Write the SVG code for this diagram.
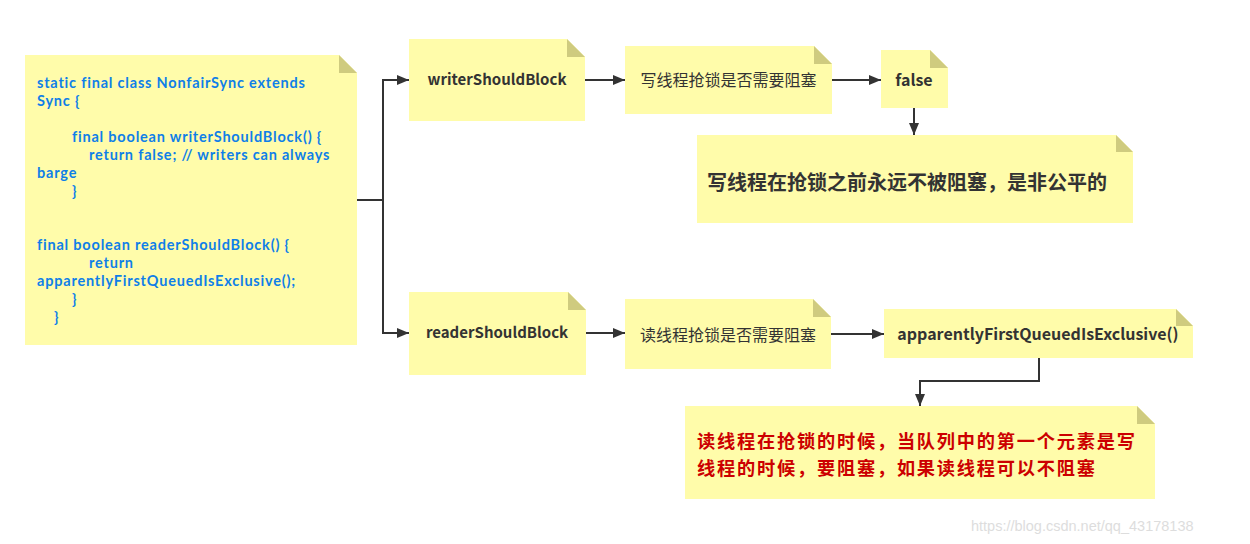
<svg xmlns="http://www.w3.org/2000/svg" width="1250" height="544" viewBox="0 0 1250 544">
<defs>
<style>
.note{fill:#fffcaa}
.fold{fill:#cfcb7f}
.code{font-family:Lato,"Liberation Sans",sans-serif;font-weight:bold;font-size:14.5px;letter-spacing:0.8px;fill:#0f7fe8}
.lbl{font-family:"Noto Sans CJK SC","Liberation Sans",sans-serif;font-weight:bold;font-size:15px;fill:#333333;text-anchor:middle}
.cn{font-family:"Noto Sans CJK SC",sans-serif;font-size:16px;fill:#333333;text-anchor:middle}
.big{font-family:"Noto Sans CJK SC",sans-serif;font-weight:bold;font-size:20px;fill:#333333}
.red{font-family:"Noto Sans CJK SC",sans-serif;font-weight:bold;font-size:18.2px;letter-spacing:1.8px;fill:#cc0000}
.wm{font-family:"Liberation Sans",sans-serif;font-size:14.5px;fill:#dddddd}
.conn{fill:none;stroke:#333333;stroke-width:2}
</style>
<marker id="arr" markerUnits="userSpaceOnUse" markerWidth="14" markerHeight="12" refX="12" refY="6" orient="auto">
<path d="M0,1 L12,6 L0,11 Z" fill="#333333"/>
</marker>
</defs>

<g id="connectors">
<path class="conn" d="M357,200 H383"/>
<path class="conn" d="M383,200 V80 H409" marker-end="url(#arr)"/>
<path class="conn" d="M383,200 V333 H409" marker-end="url(#arr)"/>
<path class="conn" d="M585,80 H625" marker-end="url(#arr)"/>
<path class="conn" d="M832,80 H881" marker-end="url(#arr)"/>
<path class="conn" d="M914,108 V135" marker-end="url(#arr)"/>
<path class="conn" d="M586,333 H625" marker-end="url(#arr)"/>
<path class="conn" d="M831,334 H884" marker-end="url(#arr)"/>
<path class="conn" d="M1039,358 V381 H920 V406" marker-end="url(#arr)"/>
</g>

<g id="code-note">
<path class="note" d="M25,55 H339 L357,73 V345 H25 Z"/>
<path class="fold" d="M339,55 L357,73 H339 Z"/>
<text class="code" x="37" y="88">static final class NonfairSync extends</text>
<text class="code" x="37" y="106">Sync {</text>
<text class="code" x="72" y="142">final boolean writerShouldBlock() {</text>
<text class="code" x="89" y="160">return false; // writers can always</text>
<text class="code" x="37" y="178">barge</text>
<text class="code" x="72" y="196">}</text>
<text class="code" x="37" y="250">final boolean readerShouldBlock() {</text>
<text class="code" x="89" y="268">return</text>
<text class="code" x="37" y="286">apparentlyFirstQueuedIsExclusive();</text>
<text class="code" x="72" y="304">}</text>
<text class="code" x="54" y="322">}</text>
</g>

<g id="writerShouldBlock">
<path class="note" d="M409,39 H567 L585,57 V121 H409 Z"/>
<path class="fold" d="M567,39 L585,57 H567 Z"/>
<text class="lbl" x="497" y="85">writerShouldBlock</text>
</g>

<g id="write-question">
<path class="note" d="M625,46 H814 L832,64 V114 H625 Z"/>
<path class="fold" d="M814,46 L832,64 H814 Z"/>
<text class="cn" x="728.5" y="86">写线程抢锁是否需要阻塞</text>
</g>

<g id="false-node">
<path class="note" d="M881,50 H930 L948,68 V108 H881 Z"/>
<path class="fold" d="M930,50 L948,68 H930 Z"/>
<text class="lbl" x="914" y="86" style="font-size:16px">false</text>
</g>

<g id="write-conclusion">
<path class="note" d="M697,135 H1116 L1133,152 V223 H697 Z"/>
<path class="fold" d="M1116,135 L1133,152 H1116 Z"/>
<text class="big" x="707" y="190">写线程在抢锁之前永远不被阻塞，是非公平的</text>
</g>

<g id="readerShouldBlock">
<path class="note" d="M409,292 H568 L586,310 V375 H409 Z"/>
<path class="fold" d="M568,292 L586,310 H568 Z"/>
<text class="lbl" x="497" y="338">readerShouldBlock</text>
</g>

<g id="read-question">
<path class="note" d="M625,299 H813 L831,317 V369 H625 Z"/>
<path class="fold" d="M813,299 L831,317 H813 Z"/>
<text class="cn" x="728" y="341">读线程抢锁是否需要阻塞</text>
</g>

<g id="apparently-node">
<path class="note" d="M884,309 H1176 L1193,326 V358 H884 Z"/>
<path class="fold" d="M1176,309 L1193,326 H1176 Z"/>
<text class="lbl" x="1038" y="340" style="font-size:16px">apparentlyFirstQueuedIsExclusive()</text>
</g>

<g id="read-conclusion">
<path class="note" d="M685,406 H1137 L1155,424 V499 H685 Z"/>
<path class="fold" d="M1137,406 L1155,424 H1137 Z"/>
<text class="red" x="697" y="448">读线程在抢锁的时候，当队列中的第一个元素是写</text>
<text class="red" x="697" y="475">线程的时候，要阻塞，如果读线程可以不阻塞</text>
</g>

<text class="wm" x="971" y="531">https://blog.csdn.net/qq_43178138</text>
</svg>
